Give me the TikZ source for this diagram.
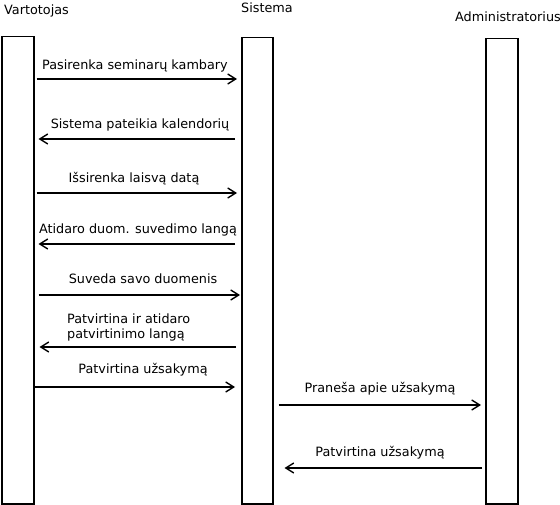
\documentclass[tikz,border=0pt]{standalone}
\usepackage{fontspec}
\setmainfont{DejaVu Sans}
\usetikzlibrary{arrows.meta}
\begin{document}
\begin{tikzpicture}[x=1pt,y=-1pt,
  lifebox/.style={draw,line width=1.5pt,minimum width=32pt,inner sep=0pt,anchor=north west},
  msg/.style={line width=1.4pt,-{Straight Barb[length=8pt,width=10pt,line width=1.4pt]}},
  lbl/.style={font=\fontsize{12.8}{15}\selectfont,inner sep=0pt,anchor=base},
  actor/.style={font=\fontsize{12.8}{15}\selectfont,inner sep=0pt,anchor=base west}]
\useasboundingbox (0,0) rectangle (560,505);
% lifelines
\node[lifebox,minimum height=467pt] (v) at (1,36) {};
\node[lifebox,minimum width=31pt,minimum height=466pt] (s) at (241,37) {};
\node[lifebox,minimum height=465pt] (a) at (485,38) {};
% actors
\node[actor] (tv) at (4,15) {Vartotojas};
\node[actor] (ts) at (241,13) {Sistema};
\node[actor] (ta) at (455,22) {Administratorius};
% messages
\draw[msg] ([xshift=2pt]v.east |- 0,79) -- ([xshift=-4pt]s.west |- 0,79);
\node[lbl] (l1) at (135,70) {Pasirenka seminarų kambary};
\draw[msg] ([xshift=-6pt]s.west |- 0,139) -- ([xshift=4pt]v.east |- 0,139);
\node[lbl] (l2) at (140,129) {Sistema pateikia kalendorių};
\draw[msg] ([xshift=2pt]v.east |- 0,193) -- ([xshift=-4pt]s.west |- 0,193);
\node[lbl] (l3) at (134,183) {Išsirenka laisvą datą};
\draw[msg] ([xshift=-6pt]s.west |- 0,244) -- ([xshift=4pt]v.east |- 0,244);
\node[lbl] (l4) at (138,234) {Atidaro duom. suvedimo langą};
\draw[msg] ([xshift=4pt]v.east |- 0,295) -- ([xshift=-1pt]s.west |- 0,295);
\node[lbl] (l5) at (143,284) {Suveda savo duomenis};
\draw[msg] ([xshift=-5pt]s.west |- 0,347) -- ([xshift=5pt]v.east |- 0,347);
\node[lbl,anchor=base west,align=left] (l6) at (67,338) {Patvirtina ir atidaro\\patvirtinimo langą};
\draw[msg] (v.east |- 0,387) -- ([xshift=-6pt]s.west |- 0,387);
\node[lbl] (l7) at (143,373) {Patvirtina užsakymą};
\draw[msg] ([xshift=5pt]s.east |- 0,405) -- ([xshift=-4pt]a.west |- 0,405);
\node[lbl] (l8) at (380,392) {Praneša apie užsakymą};
\draw[msg] ([xshift=-3pt]a.west |- 0,468) -- ([xshift=11pt]s.east |- 0,468);
\node[lbl] (l9) at (380,456) {Patvirtina užsakymą};
\end{tikzpicture}
\end{document}
